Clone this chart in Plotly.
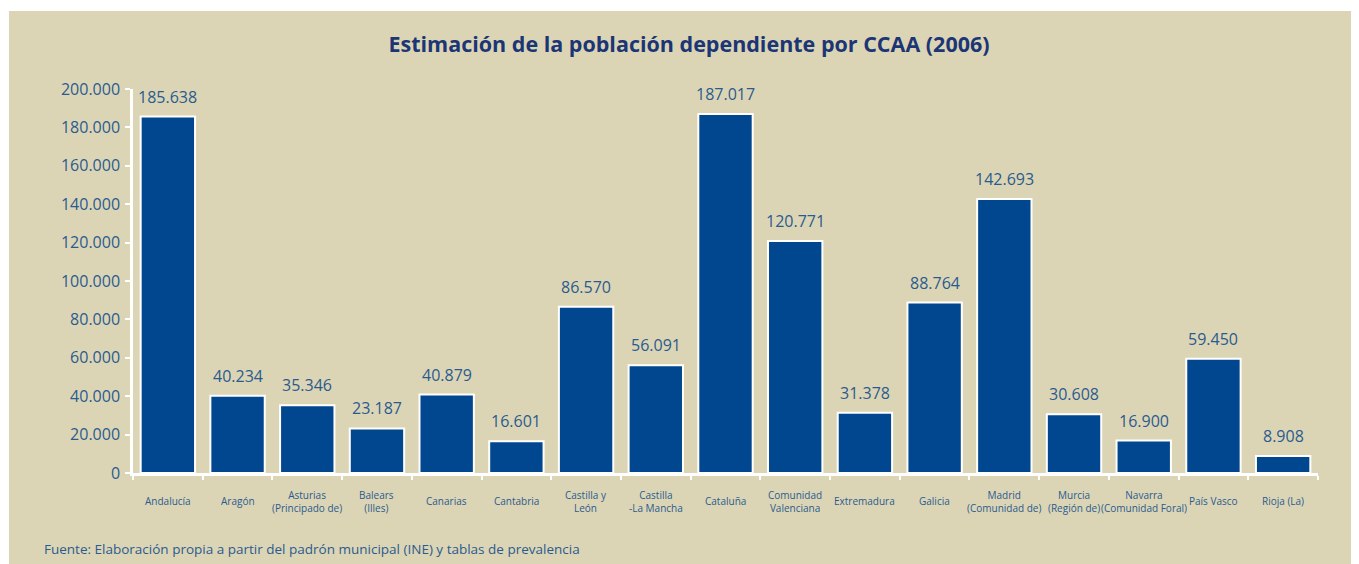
import plotly.graph_objects as go

categories = ["Andalucía", "Aragón", "Asturias<br>(Principado de)", "Balears<br>(Illes)", "Canarias",
              "Cantabria", "Castilla y<br>León", "Castilla<br>-La Mancha", "Cataluña",
              "Comunidad<br>Valenciana", "Extremadura", "Galicia", "Madrid<br>(Comunidad de)",
              "Murcia<br>(Región de)", "Navarra<br>(Comunidad Foral)", "País Vasco", "Rioja (La)"]
values = [185638, 40234, 35346, 23187, 40879, 16601, 86570, 56091, 187017,
          120771, 31378, 88764, 142693, 30608, 16900, 59450, 8908]
y_ticks = [0, 20000, 40000, 60000, 80000, 100000, 120000, 140000, 160000, 180000, 200000]

BG = "#dcd5b5"
BAR = "#00478f"
TXT = "#2a5b8f"
FONT = "Open Sans"

# page body has an 8px margin; compensate so the figure lands where the reference is
OFF = 8
W, H = 1359 - OFF, 564 - OFF
L, T = 133 - OFF, 89 - OFF
R = W - (1318 - OFF)
B = H - (473 - OFF)
pw, ph = W - L - R, H - T - B


def px_x(x):  # page x -> paper x
    return (x - OFF - L) / pw


def px_y(y):  # page y -> paper y
    return (T + ph - (y - OFF)) / ph


fig = go.Figure()
fig.add_trace(go.Bar(
    x=categories, y=values,
    marker=dict(color=BAR, line=dict(color="white", width=2)),
    cliponaxis=False, width=0.78,
))

fig.add_shape(type="rect", xref="paper", yref="paper",
              x0=px_x(9), x1=px_x(1365), y0=px_y(570), y1=px_y(11),
              fillcolor=BG, line=dict(width=0), layer="below")

annotations = []
for c, v in zip(categories, values):
    annotations.append(dict(x=c, y=v, xref="x", yref="y", text=f"{v:,}".replace(",", "."),
                            showarrow=False, yanchor="middle", yshift=20,
                            font=dict(size=16, color=TXT, family=FONT)))
    annotations.append(dict(x=c, y=px_y(501), xref="x", yref="paper", text=c,
                            showarrow=False, yanchor="middle",
                            font=dict(size=10, color=TXT, family=FONT)))
annotations.append(dict(text="Fuente: Elaboración propia a partir del padrón municipal (INE) y tablas de prevalencia",
                        xref="paper", yref="paper", x=px_x(42), y=px_y(549),
                        xanchor="left", yanchor="middle", showarrow=False,
                        font=dict(size=13.5, color=TXT, family=FONT)))

fig.update_layout(
    width=W, height=H,
    margin=dict(l=L, r=R, t=T, b=B),
    paper_bgcolor="white", plot_bgcolor="rgba(0,0,0,0)",
    separators=",.",
    showlegend=False,
    bargap=0.22,
    title=dict(text="<b>Estimación de la población dependiente por CCAA (2006)</b>",
               x=(689 - OFF) / W, xanchor="center", y=1 - (44 - OFF) / H, yanchor="middle",
               font=dict(size=21.5, color="#1b3575", family=FONT)),
    font=dict(family=FONT, color=TXT),
    xaxis=dict(showline=True, linecolor="white", linewidth=2.5,
               ticks="outside", tickson="boundaries", tickcolor="white", ticklen=4, tickwidth=2,
               showticklabels=False, showgrid=False),
    yaxis=dict(range=[0, 200000], tickvals=y_ticks, tickformat=",",
               showline=True, linecolor="white", linewidth=2.5,
               ticks="outside", tickcolor="white", ticklen=5, tickwidth=2,
               tickfont=dict(size=16, color=TXT, family=FONT),
               showgrid=False, zeroline=False, ticklabelstandoff=2),
    annotations=annotations,
)

fig.write_html("out.html")
